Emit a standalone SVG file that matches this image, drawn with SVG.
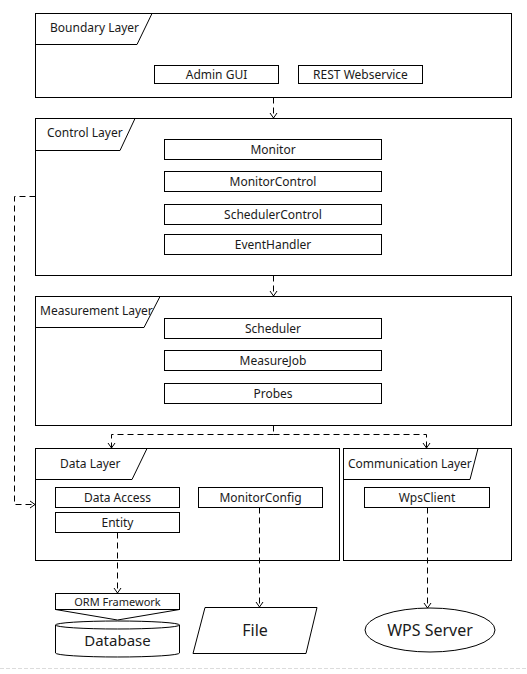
<svg xmlns="http://www.w3.org/2000/svg" width="527" height="674" viewBox="0 0 527 674">
  <style>
    .frame { fill: #ffffff; stroke: #000000; stroke-width: 1; }
    .tab { fill: none; stroke: #000000; stroke-width: 1; }
    .box { fill: #ffffff; stroke: #000000; stroke-width: 1; }
    .lbl { font-family: "Noto Sans", "Liberation Sans", sans-serif; font-size: 12px; fill: #1a1a1a; }
    .mid { text-anchor: middle; }
    .big { font-size: 16px; }
    .db { font-size: 15px; }
    .small { font-size: 11px; }
    .dep { fill: none; stroke: #000000; stroke-width: 1; stroke-dasharray: 6 4; }
    .dep-end { marker-end: url(#open); }
  </style>
  <defs>
    <marker id="open" viewBox="-6 -5 7 10" refX="0" refY="0" markerWidth="7" markerHeight="10" markerUnits="userSpaceOnUse" orient="auto">
      <path d="M-5,-3.5 L0,0 L-5,3.5" fill="none" stroke="#000000" stroke-width="1" stroke-dasharray="none"/>
    </marker>
  </defs>
  <rect width="527" height="674" fill="#ffffff"/>

  <!-- Boundary layer -->
  <g id="boundary-layer">
    <rect class="frame" x="35.5" y="13.5" width="476" height="84"/>
    <path class="tab" d="M35.5,44.5 H137 L152,13.5"/>
    <text class="lbl" x="50" y="32">Boundary Layer</text>
  </g>
  <g id="admin-gui">
    <rect class="box" x="154.5" y="65.5" width="124" height="18"/>
    <text class="lbl mid" x="216.5" y="78.5">Admin GUI</text>
  </g>
  <g id="rest-webservice">
    <rect class="box" x="298.5" y="65.5" width="124" height="18"/>
    <text class="lbl mid" x="360.5" y="78.5">REST Webservice</text>
  </g>

  <!-- Control layer -->
  <g id="control-layer">
    <rect class="frame" x="35.5" y="118.5" width="476" height="157"/>
    <path class="tab" d="M35.5,150.5 H120 L135,118.5"/>
    <text class="lbl" x="47" y="137">Control Layer</text>
  </g>
  <g id="monitor">
    <rect class="box" x="164.5" y="139.5" width="217" height="20"/>
    <text class="lbl mid" x="273" y="153.5">Monitor</text>
  </g>
  <g id="monitor-control">
    <rect class="box" x="164.5" y="171.5" width="217" height="20"/>
    <text class="lbl mid" x="273" y="185.5">MonitorControl</text>
  </g>
  <g id="scheduler-control">
    <rect class="box" x="164.5" y="204.5" width="217" height="20"/>
    <text class="lbl mid" x="273" y="218.5">SchedulerControl</text>
  </g>
  <g id="event-handler">
    <rect class="box" x="164.5" y="234.5" width="217" height="20"/>
    <text class="lbl mid" x="273" y="248.5">EventHandler</text>
  </g>

  <!-- Measurement layer -->
  <g id="measurement-layer">
    <rect class="frame" x="35.5" y="296.5" width="476" height="129"/>
    <path class="tab" d="M35.5,327.5 H144 L160,296.5"/>
    <text class="lbl" x="40" y="315">Measurement Layer</text>
  </g>
  <g id="scheduler">
    <rect class="box" x="164.5" y="318.5" width="217" height="20"/>
    <text class="lbl mid" x="273" y="332.5">Scheduler</text>
  </g>
  <g id="measure-job">
    <rect class="box" x="164.5" y="350.5" width="217" height="20"/>
    <text class="lbl mid" x="273" y="364.5">MeasureJob</text>
  </g>
  <g id="probes">
    <rect class="box" x="164.5" y="383.5" width="217" height="20"/>
    <text class="lbl mid" x="273" y="397.5">Probes</text>
  </g>

  <!-- Data layer -->
  <g id="data-layer">
    <rect class="frame" x="35.5" y="448.5" width="304" height="112"/>
    <path class="tab" d="M35.5,479.5 H132 L147,448.5"/>
    <text class="lbl" x="60" y="468">Data Layer</text>
  </g>
  <g id="data-access">
    <rect class="box" x="55.5" y="487.5" width="124" height="20"/>
    <text class="lbl mid" x="117.5" y="501.5">Data Access</text>
  </g>
  <g id="entity">
    <rect class="box" x="55.5" y="512.5" width="124" height="20"/>
    <text class="lbl mid" x="117.5" y="526.5">Entity</text>
  </g>
  <g id="monitor-config">
    <rect class="box" x="198.5" y="487.5" width="124" height="20"/>
    <text class="lbl mid" x="260.5" y="501.5">MonitorConfig</text>
  </g>

  <!-- Communication layer -->
  <g id="communication-layer">
    <rect class="frame" x="343.5" y="448.5" width="168" height="112"/>
    <path class="tab" d="M343.5,479.5 H470 L478,448.5"/>
    <text class="lbl" x="348" y="468">Communication Layer</text>
  </g>
  <g id="wps-client">
    <rect class="box" x="364.5" y="487.5" width="125" height="20"/>
    <text class="lbl mid" x="427" y="501.5">WpsClient</text>
  </g>

  <!-- External resources -->
  <g id="orm-database">
    <rect class="box" x="55.5" y="593.5" width="124" height="16"/>
    <text class="lbl mid small" x="117.5" y="605.5">ORM Framework</text>
    <path class="tab" d="M55.5,609.5 L117.5,620 L179.5,609.5"/>
    <path class="box" d="M55.5,625 A62,4 0 0 1 179.5,625 V653 A62,4 0 0 1 55.5,653 Z"/>
    <path class="tab" d="M55.5,625 A62,4 0 0 0 179.5,625"/>
    <text class="lbl mid db" x="117.5" y="646">Database</text>
  </g>
  <g id="file">
    <path class="box" d="M205,607.5 H317 L306,653.5 H193 Z"/>
    <text class="lbl mid big" x="255" y="636">File</text>
  </g>
  <g id="wps-server">
    <ellipse class="box" cx="430" cy="630" rx="65" ry="22"/>
    <text class="lbl mid big" x="430" y="636">WPS Server</text>
  </g>

  <!-- Dependencies -->
  <g id="connectors">
    <path class="dep dep-end" d="M273.5,97.5 V118"/>
    <path class="dep dep-end" d="M273.5,275.5 V296"/>
    <path class="dep" d="M273.5,425.5 V434.5"/>
    <path class="dep dep-end" d="M273.5,434.5 H111.5 V448"/>
    <path class="dep dep-end" d="M273.5,434.5 H426.5 V448"/>
    <path class="dep dep-end" d="M35.5,196.5 H14.5 V504.5 H35"/>
    <path class="dep dep-end" d="M117.5,532.5 V593"/>
    <path class="dep dep-end" d="M259.5,507.5 V607"/>
    <path class="dep dep-end" d="M427.5,507.5 V608"/>
  </g>

  <!-- page edge -->
  <line x1="0" y1="668.5" x2="527" y2="668.5" stroke="#dcdcdc" stroke-width="1" stroke-dasharray="4 2"/>
</svg>
